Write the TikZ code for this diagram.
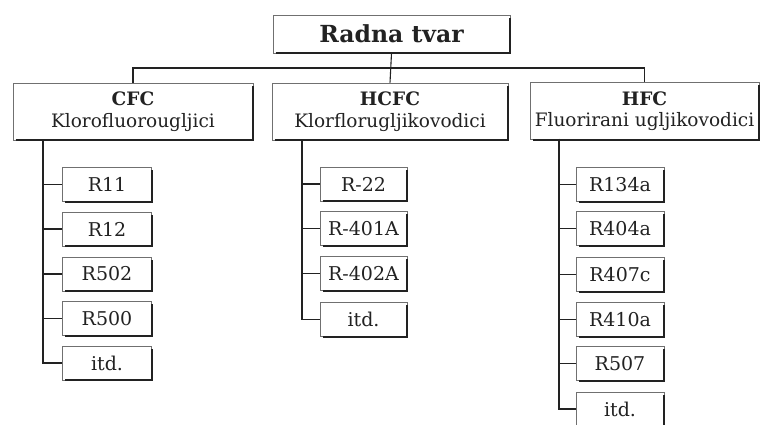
\documentclass[tikz,border=0pt]{standalone}
\usepackage{fontspec}
\setmainfont{DejaVu Serif}
\definecolor{ink}{HTML}{222222}
\definecolor{edge}{HTML}{707070}
\tikzset{
  box/.style={draw=edge, line width=0.7pt, fill=white, inner sep=0pt, align=center, text=ink},
  topbox/.style={box, minimum width=237pt, minimum height=38pt, font=\fontsize{23.5}{27}\selectfont\bfseries},
  groupbox/.style={box, minimum height=57pt, font=\fontsize{18.5}{21.5}\selectfont},
  leafbox/.style={box, minimum width=89pt, minimum height=34pt, font=\fontsize{19}{22}\selectfont},
  wire/.style={draw=ink, line width=1.1pt},
  shade/.style={draw=ink, line width=2.2pt, line join=miter}
}
\newcommand\boxshadow[1]{\draw[shade] ([xshift=3pt]#1.south west) -- (#1.south east) -- ([yshift=-3pt]#1.north east);}
\begin{document}
\begin{tikzpicture}[x=1pt,y=-1pt]
\useasboundingbox (0,0) rectangle (760,424);
\fill[white] (0,0) rectangle (760,424);

% root
\node[topbox] (root) at (391.5,34) {Radna tvar};

% groups
\node[groupbox, minimum width=240pt] (cfc) at (133,111.5) {\textbf{CFC}\\Klorofluorougljici};
\node[groupbox, minimum width=236pt] (hcfc) at (390,111.5) {\textbf{HCFC}\\Klorflorugljikovodici};
\node[groupbox, minimum width=229pt] (hfc) at (644.5,111) {\textbf{HFC}\\Fluorirani ugljikovodici};

% CFC leaves
\node[leafbox] (a1) at (107,184.5) {R11};
\node[leafbox] (a2) at (107,229) {R12};
\node[leafbox] (a3) at (107,274) {R502};
\node[leafbox] (a4) at (107,318.5) {R500};
\node[leafbox] (a5) at (107,363) {itd.};

% HCFC leaves
\node[leafbox, minimum width=87pt] (b1) at (363.5,184) {R-22};
\node[leafbox, minimum width=87pt] (b2) at (363.5,228.5) {R-401A};
\node[leafbox, minimum width=87pt] (b3) at (363.5,273.5) {R-402A};
\node[leafbox, minimum width=87pt] (b4) at (363.5,319.5) {itd.};

% HFC leaves
\node[leafbox, minimum width=88pt] (c1) at (620,184.5) {R134a};
\node[leafbox, minimum width=88pt] (c2) at (620,228.5) {R404a};
\node[leafbox, minimum width=88pt] (c3) at (620,274.5) {R407c};
\node[leafbox, minimum width=88pt] (c4) at (620,319.5) {R410a};
\node[leafbox, minimum width=88pt] (c5) at (620,363.5) {R507};
\node[leafbox, minimum width=88pt] (c6) at (620,409) {itd.};

% shadows
\foreach \n in {root,cfc,hcfc,hfc,a1,a2,a3,a4,a5,b1,b2,b3,b4,c1,c2,c3,c4,c5,c6} {\boxshadow{\n}}

% top connectors
\coordinate (bus) at (391.5,68);
\draw[wire] (root.south) -- (hcfc.north);
\draw[wire] (cfc.north) |- (bus) -| (hfc.north);

% CFC spine
\coordinate (sa) at (43,140);
\draw[wire] (sa) |- (a5.west);
\foreach \i in {1,2,3,4} {\draw[wire] (sa |- a\i.west) -- (a\i.west);}

% HCFC spine
\coordinate (sb) at (302,140);
\draw[wire] (sb) |- (b4.west);
\foreach \i in {1,2,3} {\draw[wire] (sb |- b\i.west) -- (b\i.west);}

% HFC spine
\coordinate (sc) at (559,138.5);
\draw[wire] (sc) |- (c6.west);
\foreach \i in {1,2,3,4,5} {\draw[wire] (sc |- c\i.west) -- (c\i.west);}
\end{tikzpicture}
\end{document}
